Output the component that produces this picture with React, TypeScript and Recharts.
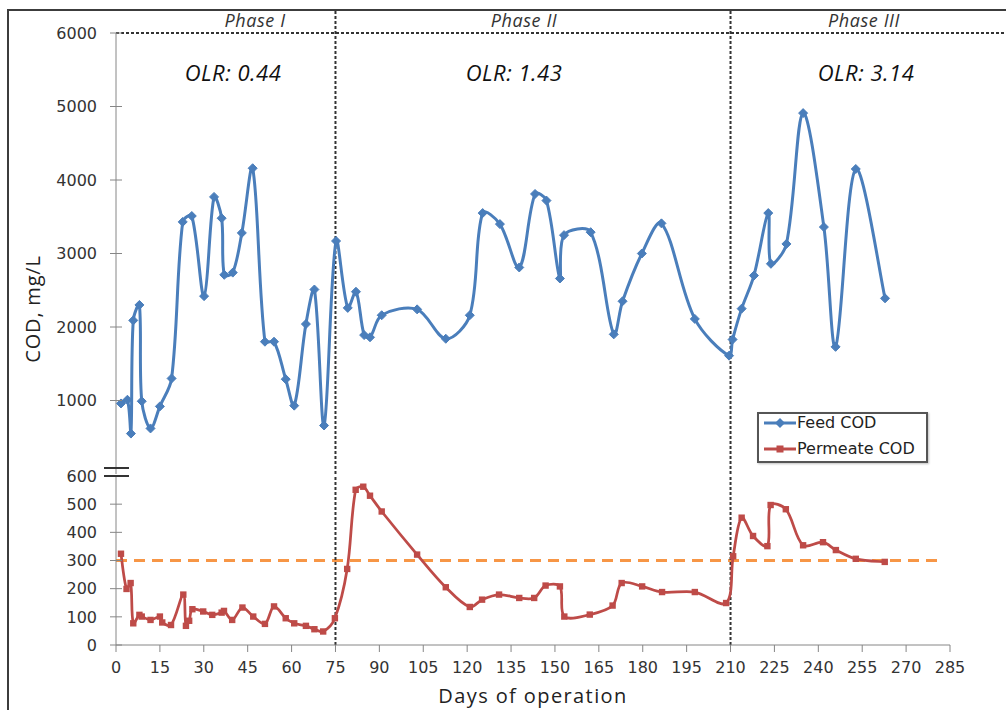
import React from 'react';
import { LineChart, Line, XAxis, YAxis, ReferenceLine, Legend } from 'recharts';

// ---- Data ----
const feedDays = [
  1.7, 3.9, 5.1, 5.9, 8.0, 8.8, 11.8, 15.0, 19.0, 22.8,
  25.9, 30.1, 33.5, 36.1, 37.0, 39.9, 43.0, 46.7, 50.9, 54.0,
  58.0, 60.9, 64.9, 67.8, 71.1, 75.2, 79.2, 82.0, 84.8, 86.8,
  90.8, 102.9, 112.7, 120.9, 125.3, 131.2, 137.8, 143.2, 147.1, 151.7,
  153.1, 162.2, 170.1, 173.1, 179.7, 186.4, 197.8, 209.5, 210.7, 213.8,
  218.0, 222.9, 223.8, 229.1, 234.8, 241.9, 245.9, 252.8, 262.8,
];
const feedCOD = [
  960, 1010, 550, 2090, 2300, 990, 620, 920, 1300, 3430,
  3510, 2420, 3770, 3480, 2710, 2740, 3280, 4160, 1800, 1800,
  1290, 930, 2040, 2510, 660, 3170, 2260, 2480, 1890, 1860,
  2160, 2240, 1840, 2160, 3550, 3400, 2810, 3810, 3720, 2660,
  3250, 3290, 1900, 2350, 3000, 3410, 2110, 1610, 1830, 2250,
  2700, 3550, 2860, 3130, 4910, 3360, 1730, 4150, 2390,
];
const permDays = [
  1.7, 3.6, 5.0, 5.9, 8.0, 8.8, 11.8, 15.0, 15.8, 18.8,
  23.0, 23.9, 25.0, 26.1, 29.8, 32.9, 36.1, 36.9, 39.7, 43.2,
  46.9, 50.9, 54.0, 58.0, 60.9, 64.9, 67.8, 70.8, 74.8, 79.0,
  81.9, 84.5, 86.8, 90.8, 102.9, 112.7, 120.9, 125.1, 130.9, 137.8,
  142.9, 146.8, 151.7, 153.2, 161.9, 169.7, 172.8, 179.8, 186.6, 197.8,
  208.5, 210.9, 213.8, 217.7, 222.6, 223.7, 228.9, 234.8, 241.6, 246.0,
  252.8, 262.7,
];
const permCOD = [
  324, 199, 220, 77, 107, 101, 89, 101, 80, 71,
  179, 68, 86, 127, 119, 107, 115, 121, 89, 133,
  101, 75, 137, 95, 77, 68, 56, 48, 95, 270,
  551, 562, 530, 474, 321, 205, 135, 161, 179, 167,
  167, 211, 208, 101, 108, 140, 220, 208, 188, 188,
  149, 315, 452, 387, 351, 497, 482, 354, 365, 337,
  306, 295,
];
const xTicks = [0, 15, 30, 45, 60, 75, 90, 105, 120, 135, 150, 165, 180, 195, 210, 225, 240, 255, 270, 285];
const feedTicks = [1000, 2000, 3000, 4000, 5000, 6000];
const permTicks = [0, 100, 200, 300, 400, 500, 600];
const phaseBoundaries = [75, 210];
const phaseLabels = ['Phase I', 'Phase II', 'Phase III'];
const olrLabels = ['OLR: 0.44', 'OLR: 1.43', 'OLR: 3.14'];
const seriesNames = ['Feed COD', 'Permeate COD'];
const permeateLimit = 300;

const feedData = feedDays.map((d, i) => ({ day: d, feed: feedCOD[i] }));
const permData = permDays.map((d, i) => ({ day: d, perm: permCOD[i] }));

// ---- Styles ----
const BLUE = '#4A7EBB';
const RED = '#BE4B48';
const ORANGE = '#F79646';
const AXIS = '#868686';
const TXT = '#333333';

// Excel-like smoothed line (chord-length weighted Catmull-Rom as cubic Bezier)
function excelSmooth(context: any) {
  let pts: number[][] = [];
  const dist = (a: number[], b: number[]) => Math.hypot(a[0] - b[0], a[1] - b[1]) || 1e-6;
  return {
    areaStart() {},
    areaEnd() {},
    lineStart() {
      pts = [];
    },
    point(x: number, y: number) {
      pts.push([+x, +y]);
    },
    lineEnd() {
      const n = pts.length;
      if (!n) return;
      context.moveTo(pts[0][0], pts[0][1]);
      const t = 1 / 6;
      for (let i = 0; i < n - 1; i++) {
        const p0 = pts[i - 1] || pts[i];
        const p1 = pts[i];
        const p2 = pts[i + 1];
        const p3 = pts[i + 2] || p2;
        const d01 = i > 0 ? dist(p0, p1) : dist(p1, p2);
        const d12 = dist(p1, p2);
        const d23 = i + 2 < n ? dist(p2, p3) : d12;
        const f1 = (2 * d12) / (d01 + d12);
        const f2 = (2 * d12) / (d12 + d23);
        context.bezierCurveTo(
          p1[0] + (p2[0] - p0[0]) * t * f1,
          p1[1] + (p2[1] - p0[1]) * t * f1,
          p2[0] - (p3[0] - p1[0]) * t * f2,
          p2[1] - (p3[1] - p1[1]) * t * f2,
          p2[0],
          p2[1]
        );
      }
    },
  };
}

const diamondDot = (p: any) => {
  const { cx, cy, index } = p;
  if (cx == null || cy == null) return <g key={`d${index}`} />;
  const s = 4.5;
  return (
    <path
      key={`d${index}`}
      d={`M${cx},${cy - s}L${cx + s},${cy}L${cx},${cy + s}L${cx - s},${cy}Z`}
      fill={BLUE}
      stroke={BLUE}
      strokeWidth={1}
    />
  );
};

const squareDot = (p: any) => {
  const { cx, cy, index } = p;
  if (cx == null || cy == null) return <g key={`s${index}`} />;
  const s = 3.2;
  return <rect key={`s${index}`} x={cx - s} y={cy - s} width={2 * s} height={2 * s} fill={RED} />;
};

const YTick = (props: any) => {
  const { x, y, payload } = props;
  return (
    <g>
      <line x1={x + 13} x2={x + 25} y1={y} y2={y} stroke={AXIS} strokeWidth={1} />
      <text x={x} y={y} dy="0.355em" textAnchor="end" fill={TXT} fontSize={16} fontFamily="DejaVu Sans">
        {payload.value}
      </text>
    </g>
  );
};

const renderLegend = () => (
  <div
    style={{
      position: 'relative',
      width: 171,
      height: 51,
      boxSizing: 'border-box',
      border: '2px solid #555',
      background: '#fff',
      fontFamily: 'DejaVu Sans',
      fontSize: 16,
      color: '#222',
      boxShadow: '1px 1px 2px rgba(0,0,0,0.25)',
    }}
  >
    {seriesNames.map((name, i) => (
      <div
        key={name}
        style={{ position: 'absolute', left: 0, top: i === 0 ? -2 : 24, height: 22, lineHeight: '22px', whiteSpace: 'nowrap' }}
      >
        <svg width={36} height={22} style={{ position: 'absolute', left: 4, top: 0 }}>
          <line x1={1} x2={33} y1={11} y2={11} stroke={i === 0 ? BLUE : RED} strokeWidth={3} />
          {i === 0 ? (
            <path d="M17,6L22,11L17,16L12,11Z" fill={BLUE} />
          ) : (
            <rect x={13.5} y={7.5} width={7} height={7} fill={RED} />
          )}
        </svg>
        <span style={{ position: 'absolute', left: 38, top: 0 }}>{name}</span>
      </div>
    ))}
  </div>
);

const phaseLabelX = [255, 524, 864];
const olrLabelX = [233, 514, 866];

export default function App() {
  return (
    <div style={{ position: 'absolute', left: 0, top: 0, width: 1006, height: 710, overflow: 'hidden', background: '#fff' }}>
      {/* frame */}
      <div
        style={{
          position: 'absolute',
          left: 7,
          top: 9,
          width: 999,
          height: 701,
          boxSizing: 'border-box',
          borderLeft: '2px solid #3c3c3c',
          borderTop: '2px solid #3c3c3c',
        }}
      />
      {/* upper panel: Feed COD */}
      <div style={{ position: 'absolute', left: 0, top: 0 }}>
        <LineChart width={1006} height={476} data={feedData} margin={{ top: 33, right: 56, bottom: 2, left: 56 }}>
          <XAxis type="number" dataKey="day" domain={[0, 285]} ticks={xTicks} hide />
          <YAxis
            type="number"
            domain={[0, 6000]}
            ticks={feedTicks}
            interval={0}
            width={60}
            tickSize={6}
            tickMargin={13}
            tickLine={false}
            axisLine={{ stroke: AXIS, strokeWidth: 1 }}
            tick={<YTick />}
          />
          <ReferenceLine
            segment={[{ x: 0, y: 6000 }, { x: 304, y: 6000 }]}
            ifOverflow="visible"
            stroke="#333"
            strokeWidth={2}
            strokeDasharray="3 2"
          />
          {phaseBoundaries.map((b) => (
            <ReferenceLine
              key={`tb${b}`}
              segment={[{ x: b, y: 0 }, { x: b, y: 6313 }]}
              ifOverflow="visible"
              stroke="#333"
              strokeWidth={2}
              strokeDasharray="3 2"
            />
          ))}
          <Line
            dataKey="feed"
            name={seriesNames[0]}
            type={excelSmooth as any}
            stroke={BLUE}
            strokeWidth={3}
            dot={diamondDot}
            activeDot={false}
            isAnimationActive={false}
          />
          <Legend
            layout="horizontal"
            verticalAlign="middle"
            align="center"
            content={renderLegend}
            wrapperStyle={{ position: 'absolute', left: 757, top: 412, width: 171, height: 51 }}
          />
        </LineChart>
      </div>
      {/* lower panel: Permeate COD */}
      <div style={{ position: 'absolute', left: 0, top: 440 }}>
        <LineChart width={1006} height={270} data={permData} margin={{ top: 36, right: 56, bottom: 3, left: 56 }}>
          <XAxis
            type="number"
            dataKey="day"
            domain={[0, 285]}
            ticks={xTicks}
            interval={0}
            height={62}
            tickSize={7}
            tickMargin={10}
            axisLine={{ stroke: AXIS, strokeWidth: 1 }}
            tickLine={{ stroke: AXIS, strokeWidth: 1 }}
            tick={{ fill: TXT, fontSize: 16, fontFamily: 'DejaVu Sans' }}
            label={{
              value: 'Days of operation',
              position: 'insideBottom',
              offset: 4,
              fill: '#222',
              fontSize: 20,
              fontFamily: 'Open Sans',
              style: { letterSpacing: '1.4px' },
            }}
          />
          <YAxis
            type="number"
            domain={[0, 600]}
            ticks={permTicks}
            interval={0}
            width={60}
            tickSize={6}
            tickMargin={13}
            tickLine={false}
            axisLine={{ stroke: AXIS, strokeWidth: 1 }}
            tick={<YTick />}
          />
          <ReferenceLine
            segment={[{ x: 0, y: permeateLimit }, { x: 281.5, y: permeateLimit }]}
            ifOverflow="visible"
            stroke={ORANGE}
            strokeWidth={3}
            strokeDasharray="11 7"
          />
          {phaseBoundaries.map((b) => (
            <ReferenceLine
              key={`bb${b}`}
              segment={[{ x: b, y: 0 }, { x: b, y: 600 }]}
              ifOverflow="visible"
              stroke="#333"
              strokeWidth={2}
              strokeDasharray="3 2"
            />
          ))}
          <Line
            dataKey="perm"
            name={seriesNames[1]}
            type={excelSmooth as any}
            stroke={RED}
            strokeWidth={2.75}
            dot={squareDot}
            activeDot={false}
            isAnimationActive={false}
          />
        </LineChart>
      </div>
      {/* annotations */}
      <svg width={1006} height={710} style={{ position: 'absolute', left: 0, top: 0, pointerEvents: 'none' }}>
        {phaseLabels.map((t, i) => (
          <text
            key={t}
            x={phaseLabelX[i]}
            y={26.5}
            textAnchor="middle"
            fontFamily="Open Sans"
            fontStyle="italic"
            fontSize={18}
            letterSpacing={0.6}
            fill="#333"
          >
            {t}
          </text>
        ))}
        {olrLabels.map((t, i) => (
          <text
            key={t}
            x={olrLabelX[i]}
            y={81}
            textAnchor="middle"
            fontFamily="Open Sans"
            fontStyle="italic"
            fontSize={22}
            letterSpacing={0.5}
            fill="#111"
          >
            {t}
          </text>
        ))}
        <text
          transform="translate(40,309) rotate(-90)"
          textAnchor="middle"
          fontFamily="Open Sans"
          fontSize={20}
          letterSpacing={0.8}
          fill="#222"
        >
          COD, mg/L
        </text>
        {/* axis break marks */}
        <line x1={104} x2={129} y1={468} y2={468} stroke="#333" strokeWidth={2} />
        <line x1={104} x2={129} y1={476} y2={476} stroke="#333" strokeWidth={2} />
      </svg>
    </div>
  );
}
